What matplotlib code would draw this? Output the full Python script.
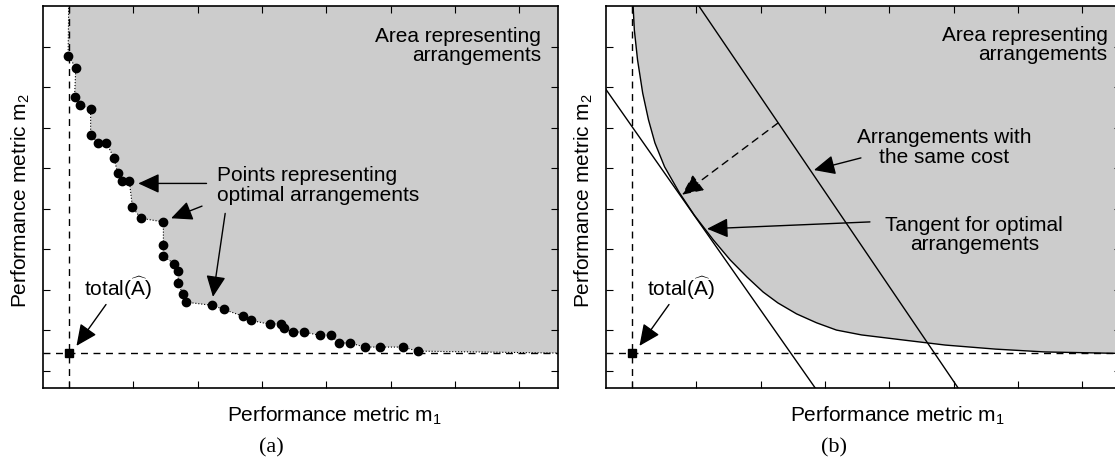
import matplotlib
matplotlib.use("Agg")
import matplotlib.pyplot as plt

plt.rcParams["font.family"] = ["Liberation Sans", "DejaVu Sans"]
plt.rcParams["mathtext.fontset"] = "custom"
plt.rcParams["mathtext.rm"] = "Liberation Sans"
plt.rcParams["mathtext.it"] = "Liberation Sans:italic"
plt.rcParams["mathtext.bf"] = "Liberation Sans:bold"

# --- data (arbitrary units) ---
# (a) optimal arrangements, m1 / m2
opt_m1 = [-0.01, 0.11, 0.09, 0.17, 0.34, 0.34, 0.46, 0.58, 0.70, 0.76, 0.82, 0.94,
          0.99, 1.12, 1.47, 1.47, 1.47, 1.64, 1.70, 1.70, 1.77, 1.82, 2.23, 2.41,
          2.71, 2.83, 3.13, 3.30, 3.35, 3.48, 3.66, 3.90, 4.07, 4.20, 4.37, 4.60,
          4.84, 5.19, 5.42]
opt_m2 = [7.78, 7.49, 6.76, 6.56, 6.47, 5.82, 5.64, 5.64, 5.27, 4.89, 4.70, 4.70,
          4.04, 3.77, 3.68, 3.10, 2.83, 2.65, 2.47, 2.18, 1.89, 1.70, 1.62, 1.52,
          1.35, 1.25, 1.15, 1.17, 1.06, 0.96, 0.96, 0.88, 0.88, 0.69, 0.69, 0.59,
          0.59, 0.59, 0.49]

# (b) boundary of the feasible region
front_m1 = [0.02, 0.04, 0.09, 0.17, 0.26, 0.36, 0.51, 0.74, 0.97, 1.27, 1.53, 1.79,
            2.04, 2.27, 2.56, 2.87, 3.18, 3.57, 4.19, 4.87, 5.65, 6.42, 7.70]
front_m2 = [9.04, 8.42, 7.68, 6.86, 6.20, 5.63, 5.04, 4.40, 3.85, 3.23, 2.74, 2.32,
            1.95, 1.68, 1.41, 1.19, 1.01, 0.89, 0.77, 0.64, 0.54, 0.47, 0.43]

# (b) iso-cost lines (endpoints)
tangent_m1 = [-0.44, 2.85]
tangent_m2 = [7.04, -0.42]
cost_m1 = [1.03, 5.07]
cost_m2 = [9.04, -0.42]

# ideal point total(A^)
ideal = (0.0, 0.44)

XLIM = (-0.40, 7.60)
YLIM = (-0.42, 9.01)
GRAY = "#cccccc"
FS = 15

fig = plt.figure(figsize=(11.15, 4.61), dpi=100)
axa = fig.add_axes([43 / 1115, 73 / 461, 515 / 1115, 382 / 461])
axb = fig.add_axes([606 / 1115, 73 / 461, 515 / 1115, 382 / 461])

arrow = dict(arrowstyle="-|>,head_length=0.65,head_width=0.3", color="k",
             lw=1.0, mutation_scale=20, shrinkA=0, shrinkB=0)


def frame(ax, tag):
    ax.set_xlim(*XLIM)
    ax.set_ylim(*YLIM)
    ax.set_xticks(range(0, 8))
    ax.set_yticks(range(0, 9))
    ax.tick_params(direction="in", length=5, width=0.8, top=True, right=True,
                   labelbottom=False, labelleft=False)
    for s in ax.spines.values():
        s.set_linewidth(1.2)
    ax.axvline(ideal[0], color="k", ls=(0, (5, 4)), lw=1.0, zorder=3)
    ax.axhline(ideal[1], color="k", ls=(0, (5, 4)), lw=1.0, zorder=3)
    ax.plot(*ideal, "s", color="k", ms=6, zorder=5)
    ax.annotate("total" + r"$(\widehat{\mathrm{A}})$", xy=(0.12, 0.62),
                xytext=(0.24, 2.05), fontsize=FS, va="center", ha="left",
                arrowprops=dict(arrow, relpos=(0.35, 0.0)))
    ax.set_xlabel("Performance metric m$_1$", fontsize=FS)
    ax.xaxis.set_label_coords(0.565, -0.045)
    ax.set_ylabel("Performance metric m$_2$", fontsize=FS)
    ax.yaxis.set_label_coords(-0.022, 0.49)
    fig.text(ax.get_position().x0 + 228 / 1115, 0.028, tag, fontsize=FS + 1,
             family="Liberation Serif", ha="center", va="center")


# ---------------- (a) ----------------
frame(axa, "(a)")
top = YLIM[1] + 0.1
px = [0.0] + opt_m1 + [XLIM[1] + 0.1, XLIM[1] + 0.1]
py = [top] + opt_m2 + [ideal[1], top]
axa.fill(px, py, color=GRAY, lw=0, zorder=1)
axa.plot([0.0] + opt_m1 + [XLIM[1] + 0.1], [top] + opt_m2 + [ideal[1]],
         color="k", ls=":", lw=0.8, zorder=4)
axa.plot(opt_m1, opt_m2, "o", color="k", ms=6, zorder=6)

axa.text(7.34, 8.02, "Area representing\narrangements", fontsize=FS,
         ha="right", va="center", linespacing=1.05)
axa.text(2.30, 4.57, "Points representing\noptimal arrangements", fontsize=FS,
         ha="left", va="center", linespacing=1.05)
axa.annotate("", xy=(1.08, 4.63), xytext=(2.14, 4.63), arrowprops=arrow)
axa.annotate("", xy=(1.59, 3.77), xytext=(2.07, 4.07), arrowprops=arrow)
axa.annotate("", xy=(2.24, 1.83), xytext=(2.43, 3.89), arrowprops=arrow)

# ---------------- (b) ----------------
frame(axb, "(b)")
qx = front_m1 + [XLIM[1] + 0.1]
qy = front_m2 + [top]
axb.fill(qx, qy, color=GRAY, lw=0, zorder=1)
axb.plot(front_m1, front_m2, color="k", lw=1.0, zorder=4)
axb.plot(tangent_m1, tangent_m2, color="k", lw=1.0, zorder=4)
axb.plot(cost_m1, cost_m2, color="k", lw=1.0, zorder=4)

axb.text(7.39, 8.05, "Area representing\narrangements", fontsize=FS,
         ha="right", va="center", linespacing=1.05)
axb.text(4.85, 5.51, "Arrangements with\nthe same cost", fontsize=FS,
         ha="center", va="center", linespacing=1.05)
axb.text(5.32, 3.36, "Tangent for optimal\narrangements", fontsize=FS,
         ha="center", va="center", linespacing=1.05)
axb.annotate("", xy=(2.83, 4.96), xytext=(3.56, 5.26), arrowprops=arrow)
axb.annotate("", xy=(1.17, 3.51), xytext=(3.70, 3.68), arrowprops=arrow)
axb.annotate("", xy=(0.78, 4.35), xytext=(2.27, 6.12),
             arrowprops=dict(arrow, ls=(0, (5, 4))))

fig.savefig("out.png", dpi=100)
